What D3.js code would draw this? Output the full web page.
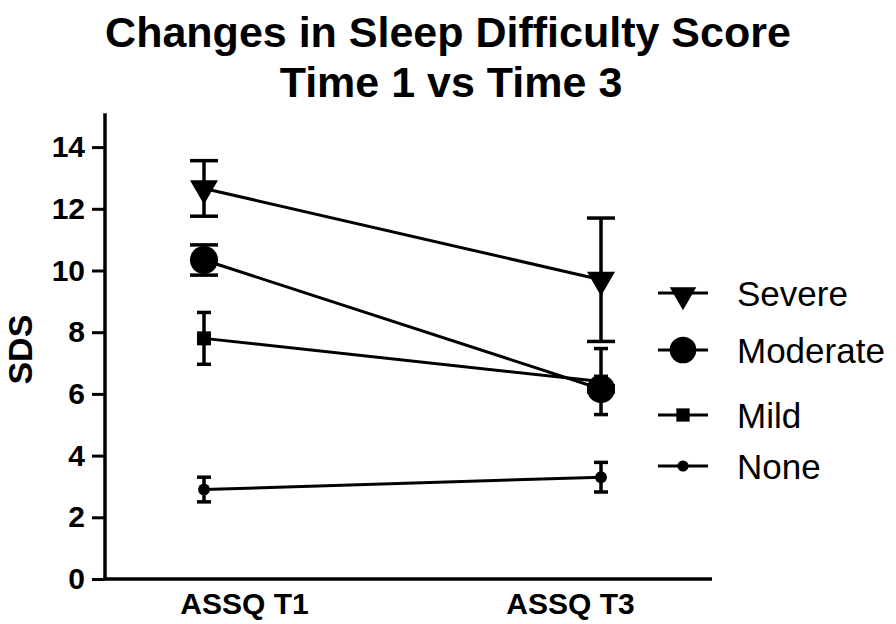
<!DOCTYPE html>
<html>
<head>
<meta charset="utf-8">
<script src="https://cdn.jsdelivr.net/npm/d3@7"></script>
<style>
  body { margin: 0; background: #fff; }
  svg { display: block; font-family: Arial, "Liberation Sans", Helvetica, sans-serif; }
</style>
</head>
<body>
<svg id="chart" width="896" height="624"></svg>
<script>
// dados
const groups = ['ASSQ T1', 'ASSQ T3'];
const seriesNames = ['Severe', 'Moderate', 'Mild', 'None'];
const severeMean = [12.66, 9.7];
const severeSem = [0.9, 2.0];
const moderateMean = [10.34, 6.16];
const moderateSem = [0.49, 0.1];
const mildMean = [7.8, 6.4];
const mildSem = [0.84, 1.07];
const noneMean = [2.9, 3.3];
const noneSem = [0.4, 0.48];
const yTicks = [0, 2, 4, 6, 8, 10, 12, 14];

const series = [
    { name: 'Severe', mean: severeMean, sem: severeSem, symbol: d3.symbolTriangle, size: 340, rot: 180, cap: 14 },
    { name: 'Moderate', mean: moderateMean, sem: moderateSem, symbol: d3.symbolCircle, size: 620, rot: 0, cap: 14 },
    { name: 'Mild', mean: mildMean, sem: mildSem, symbol: d3.symbolSquare, size: 196, rot: 0, cap: 7 },
    { name: 'None', mean: noneMean, sem: noneSem, symbol: d3.symbolCircle, size: 110, rot: 0, cap: 7 }
];

const svg = d3.select('#chart');

const y = d3.scaleLinear().domain([0, 15]).range([579, 116.25]);
const x = d3.scalePoint().domain(groups).range([204, 601]);
const xLabel = d3.scalePoint().domain(groups).range([244, 570]);

// titulo
const title = svg.append('g').attr('text-anchor', 'middle')
    .style('font-weight', 'bold').style('font-size', '43px');
title.append('text').attr('x', 448).attr('y', 47).text('Changes in Sleep Difficulty Score');
title.append('text').attr('x', 451).attr('y', 97).text('Time 1 vs Time 3');

// eixo y
const yAxis = svg.append('g')
    .attr('transform', 'translate(105,0)')
    .call(d3.axisLeft(y).tickValues(yTicks).tickSize(13).tickSizeOuter(0).tickPadding(7));
yAxis.select('.domain').attr('stroke-width', 3.5).attr('d', `M0,${y(15) - 3}V${y(0)}`);
yAxis.selectAll('.tick line').attr('stroke-width', 3);
yAxis.selectAll('.tick text')
    .style('font-size', '30px').style('font-weight', 'bold').attr('fill', '#000')
    .attr('font-family', null);

svg.append('text')
    .attr('transform', `translate(32,${y(7.5) + 2}) rotate(-90)`)
    .attr('text-anchor', 'middle')
    .style('font-size', '34px').style('font-weight', 'bold')
    .text('SDS');

// eixo x
const xAxis = svg.append('g')
    .attr('transform', `translate(0,${y(0)})`)
    .call(d3.axisBottom(xLabel).tickSize(0).tickPadding(14));
xAxis.select('.domain').attr('stroke-width', 3.5).attr('d', 'M103,0H712');
xAxis.selectAll('.tick text')
    .style('font-size', '30px').style('font-weight', 'bold').attr('fill', '#000')
    .attr('font-family', null).attr('dy', '0.71em');

// linhas
const line = d3.line().x((d, i) => x(groups[i])).y(d => y(d));
const plot = svg.append('g');

plot.selectAll('.series-line')
    .data(series).enter().append('path')
    .attr('class', 'series-line')
    .attr('d', d => line(d.mean))
    .attr('fill', 'none').attr('stroke', '#000').attr('stroke-width', 3);

// barras de erro
series.forEach(s => {
    const g = plot.append('g').attr('class', 'err');
    groups.forEach((grp, i) => {
        const cx = x(grp);
        const top = y(s.mean[i] + s.sem[i]);
        const bot = y(s.mean[i] - s.sem[i]);
        g.append('line').attr('x1', cx).attr('x2', cx).attr('y1', top).attr('y2', bot);
        g.append('line').attr('x1', cx - s.cap).attr('x2', cx + s.cap).attr('y1', top).attr('y2', top);
        g.append('line').attr('x1', cx - s.cap).attr('x2', cx + s.cap).attr('y1', bot).attr('y2', bot);
    });
    g.selectAll('line').attr('stroke', '#000').attr('stroke-width', 3.5);
});

// marcadores
series.forEach(s => {
    plot.selectAll(null)
        .data(s.mean).enter().append('path')
        .attr('d', d3.symbol().type(s.symbol).size(s.size))
        .attr('transform', (d, i) => `translate(${x(groups[i])},${y(d)}) rotate(${s.rot})`)
        .attr('fill', '#000');
});

// legenda
const legendRowY = { Severe: 293, Moderate: 350, Mild: 415, None: 466 };
const legend = svg.append('g');
series.forEach(s => {
    const ly = legendRowY[s.name];
    const row = legend.append('g').attr('transform', `translate(0,${ly})`);
    row.append('line').attr('x1', 658).attr('x2', 708).attr('y1', 0).attr('y2', 0)
        .attr('stroke', '#000').attr('stroke-width', 3);
    row.append('path')
        .attr('d', d3.symbol().type(s.symbol).size(s.size * 0.9))
        .attr('transform', `translate(683,${s.rot ? 2 : 0}) rotate(${s.rot})`)
        .attr('fill', '#000');
    row.append('text').attr('x', 737).attr('y', 13)
        .style('font-size', '35px')
        .text(s.name);
});
</script>
</body>
</html>
